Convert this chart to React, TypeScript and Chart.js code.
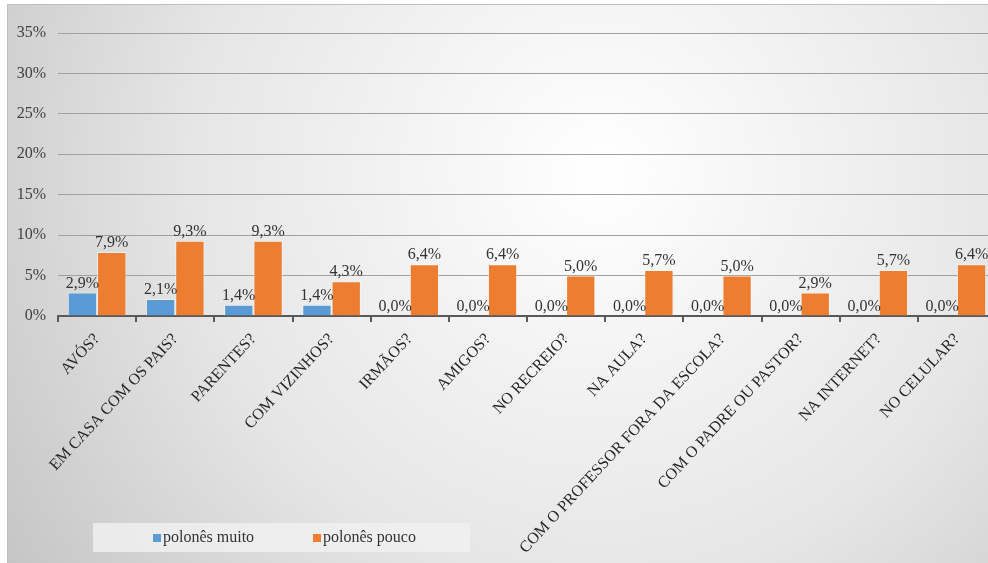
import React, { useEffect, useRef } from "react";
import { Chart, registerables } from "chart.js";

Chart.register(...registerables);

const categories = [
  "AVÓS?",
  "EM CASA COM OS PAIS?",
  "PARENTES?",
  "COM VIZINHOS?",
  "IRMÃOS?",
  "AMIGOS?",
  "NO RECREIO?",
  "NA AULA?",
  "COM O PROFESSOR FORA DA ESCOLA?",
  "COM O PADRE OU PASTOR?",
  "NA INTERNET?",
  "NO CELULAR?",
];
const seriesNames = ["polonês muito", "polonês pouco"];
const poloneseMuito = [2.9, 2.1, 1.4, 1.4, 0, 0, 0, 0, 0, 0, 0, 0];
const polonesePouco = [7.9, 9.3, 9.3, 4.3, 6.4, 6.4, 5.0, 5.7, 5.0, 2.9, 5.7, 6.4];
const yMax = 35;
const yStep = 5;

const FONT = "Liberation Serif";
const BLUE = "#5B9BD5";
const ORANGE = "#ED7D31";

const fmt = (v: number) => v.toFixed(1).replace(".", ",") + "%";

const bgPlugin = {
  id: "bgPlugin",
  beforeDraw(chart: any) {
    const { ctx, width, height } = chart;
    ctx.save();
    const g = ctx.createRadialGradient(width * 0.6, height * 0.3, 0, width * 0.6, height * 0.3, width * 0.75);
    g.addColorStop(0, "#ffffff");
    g.addColorStop(0.55, "#e6e6e6");
    g.addColorStop(1, "#c2c2c2");
    ctx.fillStyle = g;
    ctx.fillRect(0, 0, width, height);
    ctx.strokeStyle = "#bfbfbf";
    ctx.lineWidth = 1;
    ctx.beginPath();
    ctx.moveTo(0.5, height);
    ctx.lineTo(0.5, 0.5);
    ctx.lineTo(width, 0.5);
    ctx.stroke();
    ctx.restore();
  },
};

const labelPlugin = {
  id: "labelPlugin",
  afterDatasetsDraw(chart: any) {
    const { ctx } = chart;
    ctx.save();
    ctx.font = `16px "${FONT}", serif`;
    ctx.fillStyle = "#333333";
    ctx.textAlign = "center";
    ctx.textBaseline = "bottom";
    chart.data.datasets.forEach((ds: any, i: number) => {
      const meta = chart.getDatasetMeta(i);
      meta.data.forEach((bar: any, j: number) => {
        ctx.fillText(fmt(ds.data[j]), bar.x, bar.y - 1);
      });
    });
    ctx.restore();
  },
};

const legendPlugin = {
  id: "legendPlugin",
  afterDraw(chart: any) {
    const { ctx } = chart;
    ctx.save();
    ctx.fillStyle = "rgba(240,240,240,0.85)";
    ctx.fillRect(86, 519, 377, 29);
    ctx.font = `16px "${FONT}", serif`;
    ctx.textBaseline = "middle";
    ctx.textAlign = "left";
    const xs = [146, 306];
    chart.data.datasets.forEach((ds: any, i: number) => {
      ctx.fillStyle = ds.backgroundColor;
      ctx.fillRect(xs[i], 530, 8, 8);
      ctx.fillStyle = "#333333";
      ctx.fillText(ds.label, xs[i] + 10, 534);
    });
    ctx.restore();
  },
};

export default function App() {
  const ref = useRef<HTMLCanvasElement | null>(null);
  useEffect(() => {
    if (!ref.current) return;
    let chart: any = null;
    let cancelled = false;
    const build = () => {
      if (cancelled || !ref.current) return;
      chart = new Chart(ref.current, {
        type: "bar",
        data: {
          labels: categories,
          datasets: [
            {
              label: seriesNames[0],
              data: poloneseMuito,
              backgroundColor: BLUE,
              borderColor: "rgba(255,255,255,0.45)",
              borderWidth: 1,
              barPercentage: 1,
              categoryPercentage: 0.75,
            },
            {
              label: seriesNames[1],
              data: polonesePouco,
              backgroundColor: ORANGE,
              borderColor: "rgba(255,255,255,0.45)",
              borderWidth: 1,
              barPercentage: 1,
              categoryPercentage: 0.75,
            },
          ],
        },
        options: {
          responsive: false,
          animation: false,
          layout: { padding: { top: 29, right: 1, left: 0, bottom: 0 } },
          plugins: {
            legend: { display: false },
            tooltip: { enabled: false },
          },
          scales: {
            x: {
              grid: {
                display: true,
                drawOnChartArea: false,
                drawTicks: true,
                tickLength: 6,
                color: "#595959",
                lineWidth: 2,
                offset: true,
              },
              border: { display: true, color: "#595959", width: 2 },
              ticks: {
                autoSkip: false,
                minRotation: 47,
                maxRotation: 47,
                color: "#262626",
                font: { family: FONT, size: 16 },
                padding: 8,
              },
              afterFit(scale: any) {
                scale.height = 247;
              },
            },
            y: {
              min: 0,
              max: yMax,
              grid: { color: "#a0a0a0", lineWidth: 1, drawTicks: false },
              border: { display: false },
              ticks: {
                stepSize: yStep,
                color: "#404040",
                font: { family: FONT, size: 16 },
                padding: 12,
                callback: (v: any) => v + "%",
              },
              afterFit(scale: any) {
                scale.width = 51;
              },
            },
          },
        },
        plugins: [bgPlugin, labelPlugin, legendPlugin],
      });
    };
    const fonts: any = (document as any).fonts;
    if (fonts && fonts.load) {
      Promise.all([fonts.load(`16px "${FONT}"`), fonts.load(`15px "${FONT}"`)])
        .catch(() => {})
        .then(build);
    } else {
      build();
    }
    return () => {
      cancelled = true;
      if (chart) chart.destroy();
    };
  }, []);
  return (
    <div style={{ position: "fixed", left: 0, top: 0, width: 988, height: 563, overflow: "hidden", background: "#fff" }}>
      <canvas
        ref={ref}
        width={990}
        height={559}
        style={{ position: "absolute", left: 7, top: 4, width: 990, height: 559 }}
      />
    </div>
  );
}
